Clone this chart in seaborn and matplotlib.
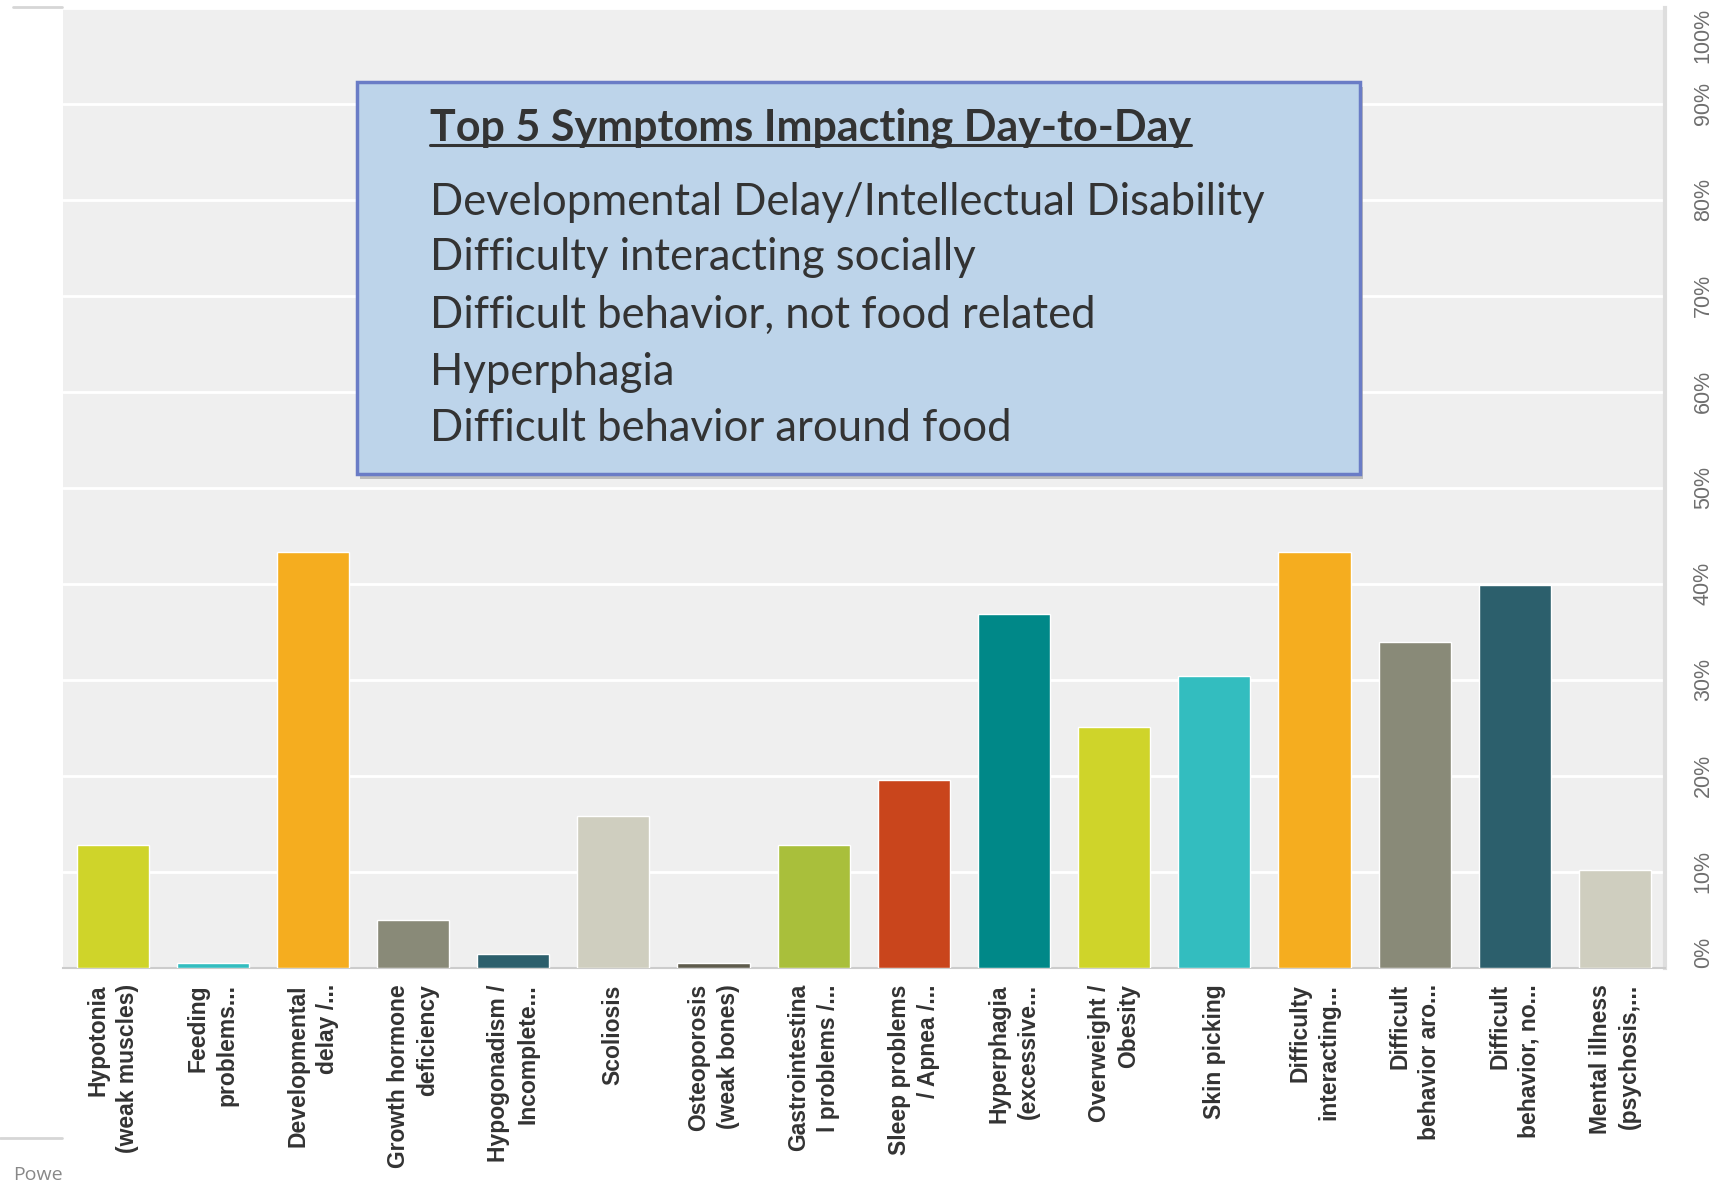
import matplotlib
matplotlib.use("Agg")
import matplotlib.pyplot as plt
import seaborn as sns
from matplotlib.patches import Rectangle
from matplotlib.lines import Line2D
from matplotlib import font_manager

# datos
symptoms = [
    "Hypotonia\n(weak muscles)", "Feeding\nproblems...", "Developmental\ndelay /...",
    "Growth hormone\ndeficiency", "Hypogonadism /\nIncomplete...", "Scoliosis",
    "Osteoporosis\n(weak bones)", "Gastrointestina\nl problems /...", "Sleep problems\n/ Apnea /...",
    "Hyperphagia\n(excessive...", "Overweight /\nObesity", "Skin picking",
    "Difficulty\ninteracting...", "Difficult\nbehavior aro...", "Difficult\nbehavior, no...",
    "Mental illness\n(psychosis,...",
]
pct = [0.128, 0.005, 0.433, 0.049, 0.014, 0.158, 0.005, 0.128,
       0.195, 0.368, 0.251, 0.304, 0.433, 0.339, 0.398, 0.102]
bar_colors = ["#cfd42a", "#33bdbf", "#f5ad1f", "#898a78", "#2c5f6c", "#cfcebf",
              "#5e5b4c", "#a9bf3b", "#c9451c", "#008888", "#cfd42a", "#33bdbf",
              "#f5ad1f", "#898a78", "#2c5f6c", "#cfcebf"]
y_ticks = [0.0, 0.1, 0.2, 0.3, 0.4, 0.5, 0.6, 0.7, 0.8, 0.9, 1.0]
y_tick_labels = ["0%", "10%", "20%", "30%", "40%", "50%", "60%", "70%", "80%", "90%", "100%"]

box_title = "Top 5 Symptoms Impacting Day-to-Day"
box_lines = [
    "Developmental Delay/Intellectual Disability",
    "Difficulty interacting socially",
    "Difficult behavior, not food related",
    "Hyperphagia",
    "Difficult behavior around food",
]


def elegir_fuente(familias):
    for f in familias:
        try:
            font_manager.findfont(font_manager.FontProperties(family=f), fallback_to_default=False)
            return f
        except ValueError:
            pass
    return "DejaVu Sans"


sns.set_theme(style="white")
plt.rcParams["font.family"] = ["Liberation Sans", "DejaVu Sans"]
fuente_estrecha = elegir_fuente(["Liberation Sans Narrow", "Liberation Sans"])
fuente_caja = elegir_fuente(["Lato", "Open Sans"])

W, H = 1720, 1186
fig = plt.figure(figsize=(W / 100, H / 100), dpi=100)
fig.patch.set_facecolor("white")

left, right, top, bottom = 62.5, 1665, 7.7, 967.5
ax = fig.add_axes([left / W, 1 - bottom / H, (right - left) / W, (bottom - top) / H])
ax.set_facecolor("#efefef")

sns.barplot(x=symptoms, y=pct, hue=symptoms, palette=bar_colors, legend=False,
            width=0.72, saturation=1, ax=ax, zorder=3)

ax.set_xlim(-0.5, 15.5)
ax.set_ylim(0, 1.0)
ax.set_yticks(y_ticks)
ax.set_yticklabels(y_tick_labels)
ax.grid(axis="y", color="white", linewidth=2)
ax.set_axisbelow(True)
ax.set_xlabel("")
ax.set_ylabel("")

for s in ["top", "left"]:
    ax.spines[s].set_visible(False)
ax.spines["bottom"].set_color("#cccccc")
ax.spines["bottom"].set_linewidth(1.5)
ax.spines["right"].set_color("#dedede")
ax.spines["right"].set_linewidth(3)

# eje y a la derecha, etiquetas giradas (0% y 100% alineadas al borde)
ax.yaxis.tick_right()
ax.tick_params(axis="y", length=0, pad=20)
ylabs = ax.get_yticklabels()
for i, t in enumerate(ylabs):
    t.set_rotation(90)
    t.set_va("center")
    t.set_fontsize(15.5)
    t.set_color("#6e6e6e")
    t.set_family(fuente_estrecha)
ylabs[0].set_va("bottom")
ylabs[-1].set_va("top")

ax.set_xticks(range(len(symptoms)))
ax.set_xticklabels(symptoms, rotation=90, ha="center", va="top", multialignment="right",
                   fontweight="bold", fontsize=16.5, color="#333333", linespacing=1.35)
ax.tick_params(axis="x", length=0, pad=12)

# lineas grises de los bordes
fig.add_artist(Line2D([13 / W, 62 / W], [1 - 7 / H, 1 - 7 / H], color="#d6d6d6", lw=2))
fig.add_artist(Line2D([0, 62 / W], [1 - 1138 / H, 1 - 1138 / H], color="#d6d6d6", lw=2))
fig.text(13 / W, 1 - 1175 / H, "Powe", fontsize=14, color="#888888", va="center",
         family="Open Sans")

# caja con el top 5
bx0, by0, bx1, by1 = 357, 82, 1360, 474
sombra = Rectangle(((bx0 + 3) / W, 1 - (by1 + 5) / H), (bx1 - bx0) / W, (by1 - by0) / H,
                   transform=fig.transFigure, facecolor="#9a9a9a", edgecolor="none", alpha=0.6)
caja = Rectangle((bx0 / W, 1 - by1 / H), (bx1 - bx0) / W, (by1 - by0) / H,
                 transform=fig.transFigure, facecolor="#bdd4ea", edgecolor="#6a7cc6", lw=2.5)
fig.add_artist(sombra)
fig.add_artist(caja)

tx = 430 / W
titulo = fig.text(tx, 1 - 140 / H, box_title, fontsize=31, fontweight="bold", color="#333333",
                  va="baseline", family=fuente_caja)
baselines = [215, 270, 328, 385, 441]
for linea, yb in zip(box_lines, baselines):
    fig.text(tx, 1 - yb / H, linea, fontsize=31.4, color="#333333", va="baseline",
             family=fuente_caja)

fig.canvas.draw()
bb = titulo.get_window_extent()
fig.add_artist(Line2D([bb.x0 / W, bb.x1 / W], [1 - 145 / H, 1 - 145 / H],
                      color="#333333", lw=2.2))

plt.savefig("out.png", dpi=100)
